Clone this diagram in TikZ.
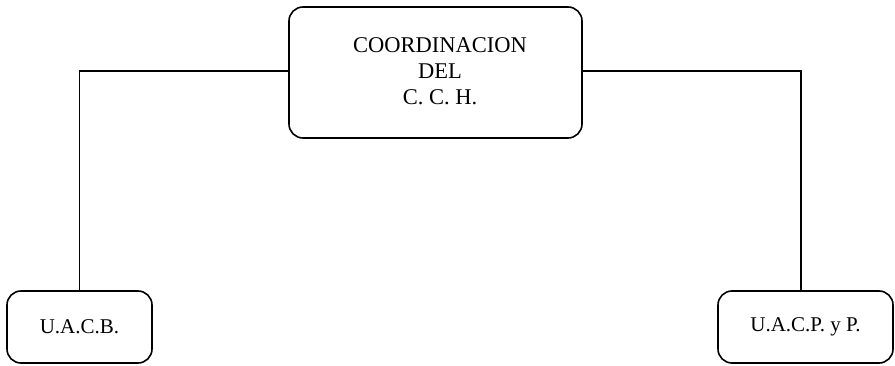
\documentclass[tikz,border=0pt]{standalone}
\usepackage{fontspec}
\setmainfont{Liberation Serif}
\begin{document}
\begin{tikzpicture}[x=1pt,y=-1pt,
  box/.style={draw, line width=1.6pt, rounded corners=14pt, inner sep=0pt,
    font=\fontsize{21}{26}\selectfont, align=center},
  conn/.style={line width=1.6pt}]
\useasboundingbox (0,0) rectangle (895,366);
\node[box, minimum width=293pt, minimum height=131pt] (top) at (435.5,72.5) {};
\node[font=\fontsize{22.5}{26}\selectfont, align=center, inner sep=0pt] (toptext) at (440,71.5) {COORDINACION\\DEL\\C. C. H.};
\node[box, minimum width=145pt, minimum height=72pt] (l) at (79.5,327) {U.A.C.B.};
\node[box, minimum width=175pt, minimum height=72pt] (r) at (805.5,327) {U.A.C.P. y P.};
\draw[conn] ([yshift=1.5pt]top.west) -| (l.north);
\draw[conn] ([yshift=1.5pt]top.east) -| ([xshift=-4.5pt]r.north);
\end{tikzpicture}
\end{document}
